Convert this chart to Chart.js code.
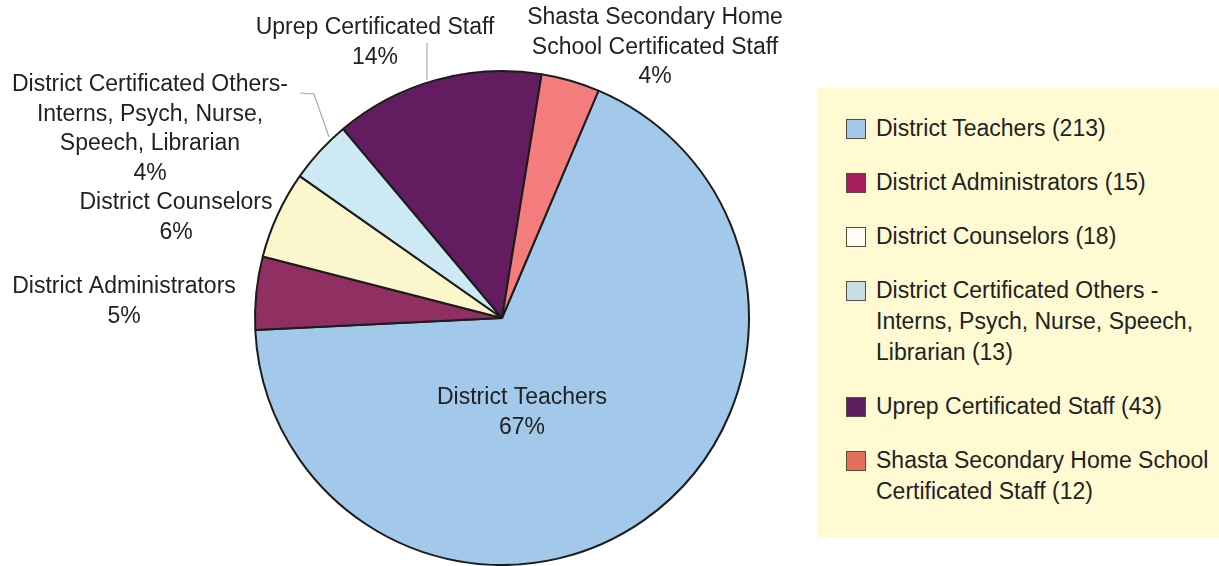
<!DOCTYPE html>
<html>
<head>
<meta charset="utf-8">
<script src="https://cdn.jsdelivr.net/npm/chart.js@4.4.0/dist/chart.umd.min.js"></script>
<style>
    html, body { margin: 0; padding: 0; background: #fff; }
    #wrap { position: relative; width: 1219px; height: 566px; overflow: hidden; font-family: 'Liberation Sans', Arial, sans-serif; }
    #chart-box { position: absolute; left: 0; top: 0; width: 1219px; height: 566px; }
    #legend {
        position: absolute; left: 817px; top: 88px; width: 402px; height: 449px;
        background: #fffad2; box-sizing: border-box; padding-top: 25px;
    }
    .item { position: relative; margin-bottom: 23px; padding-left: 59px; color: #222;
        font-size: 23px; line-height: 31px; white-space: pre-line; }
    .item .sw { position: absolute; left: 29px; top: 6px; width: 18px; height: 18px;
        border: 1px solid #5a4a40; }
</style>
</head>
<body>
<div id="wrap">
    <div id="chart-box"><canvas id="pie"></canvas></div>
    <div id="legend"></div>
</div>
<script>
// staff counts by group, order = legend order
const groups = ['District Teachers', 'District Administrators', 'District Counselors',
    'District Certificated Others - Interns, Psych, Nurse, Speech, Librarian',
    'Uprep Certificated Staff', 'Shasta Secondary Home School Certificated Staff'];
const counts = [213, 15, 18, 13, 43, 12];
// percentages as printed on the slices
const pctLabels = ['67%', '5%', '6%', '4%', '14%', '4%'];
// slice label text (line breaks as drawn)
const sliceLabels = [
    ['District Teachers'],
    ['District Administrators'],
    ['District Counselors'],
    ['District Certificated Others-', 'Interns, Psych, Nurse,', 'Speech, Librarian'],
    ['Uprep Certificated Staff'],
    ['Shasta Secondary Home', 'School Certificated Staff']
];
const legendLines = [
    'District Teachers',
    'District Administrators',
    'District Counselors',
    'District Certificated Others -\nInterns, Psych, Nurse, Speech,\nLibrarian',
    'Uprep Certificated Staff',
    'Shasta Secondary Home School\nCertificated Staff'
];

const sliceColors = ['#a2c8ea', '#902f62', '#fcf6cc', '#cde9f4', '#621c5f', '#f47c7c'];
const swatchColors = ['#a2c8ea', '#a81c5e', '#fffdf4', '#c6dde6', '#5c1e5c', '#e2705a'];

// label placement relative to pie centre (px): x of text centre, y of first line
const labelOffsets = [[20, 80], [-378, -31], [-326, -115], [-352, -233], [-127, -290], [153, -300]];
// gray leader lines, offsets from pie centre
const leaders = [
    [[-202, -225], [-188, -224], [-173, -181]],
    [[-75, -275], [-75, -238]]
];

const sliceText = {
    id: 'sliceText',
    afterDatasetsDraw(chart) {
        const arc0 = chart.getDatasetMeta(0).data[0];
        const cx = arc0.x, cy = arc0.y;
        const ctx = chart.ctx;
        ctx.save();
        ctx.strokeStyle = '#aaaaaa';
        ctx.lineWidth = 1.2;
        leaders.forEach((pts) => {
            ctx.beginPath();
            pts.forEach(([dx, dy], i) => {
                if (i === 0) ctx.moveTo(cx + dx, cy + dy);
                else ctx.lineTo(cx + dx, cy + dy);
            });
            ctx.stroke();
        });
        ctx.fillStyle = '#222';
        ctx.font = '23px "Liberation Sans", Arial, sans-serif';
        ctx.textAlign = 'center';
        ctx.textBaseline = 'middle';
        sliceLabels.forEach((lines, i) => {
            const [dx, dy] = labelOffsets[i];
            const all = lines.concat([pctLabels[i]]);
            all.forEach((t, j) => {
                ctx.fillText(t, cx + dx, cy + dy + j * 29.5);
            });
        });
        ctx.restore();
    }
};

new Chart(document.getElementById('pie'), {
    type: 'pie',
    data: {
        labels: groups,
        datasets: [{
            data: counts,
            backgroundColor: sliceColors,
            borderColor: '#1c1c1c',
            borderWidth: 2
        }]
    },
    options: {
        responsive: true,
        maintainAspectRatio: false,
        animation: false,
        rotation: 23,
        layout: { padding: { left: 254, right: 469, top: 70, bottom: 0 } },
        plugins: {
            legend: { display: false },
            tooltip: { enabled: false }
        }
    },
    plugins: [sliceText]
});

const legendEl = document.getElementById('legend');
legendLines.forEach((txt, i) => {
    const div = document.createElement('div');
    div.className = 'item';
    const sw = document.createElement('span');
    sw.className = 'sw';
    sw.style.background = swatchColors[i];
    div.appendChild(sw);
    div.appendChild(document.createTextNode(txt + ' (' + counts[i] + ')'));
    legendEl.appendChild(div);
});
</script>
</body>
</html>
